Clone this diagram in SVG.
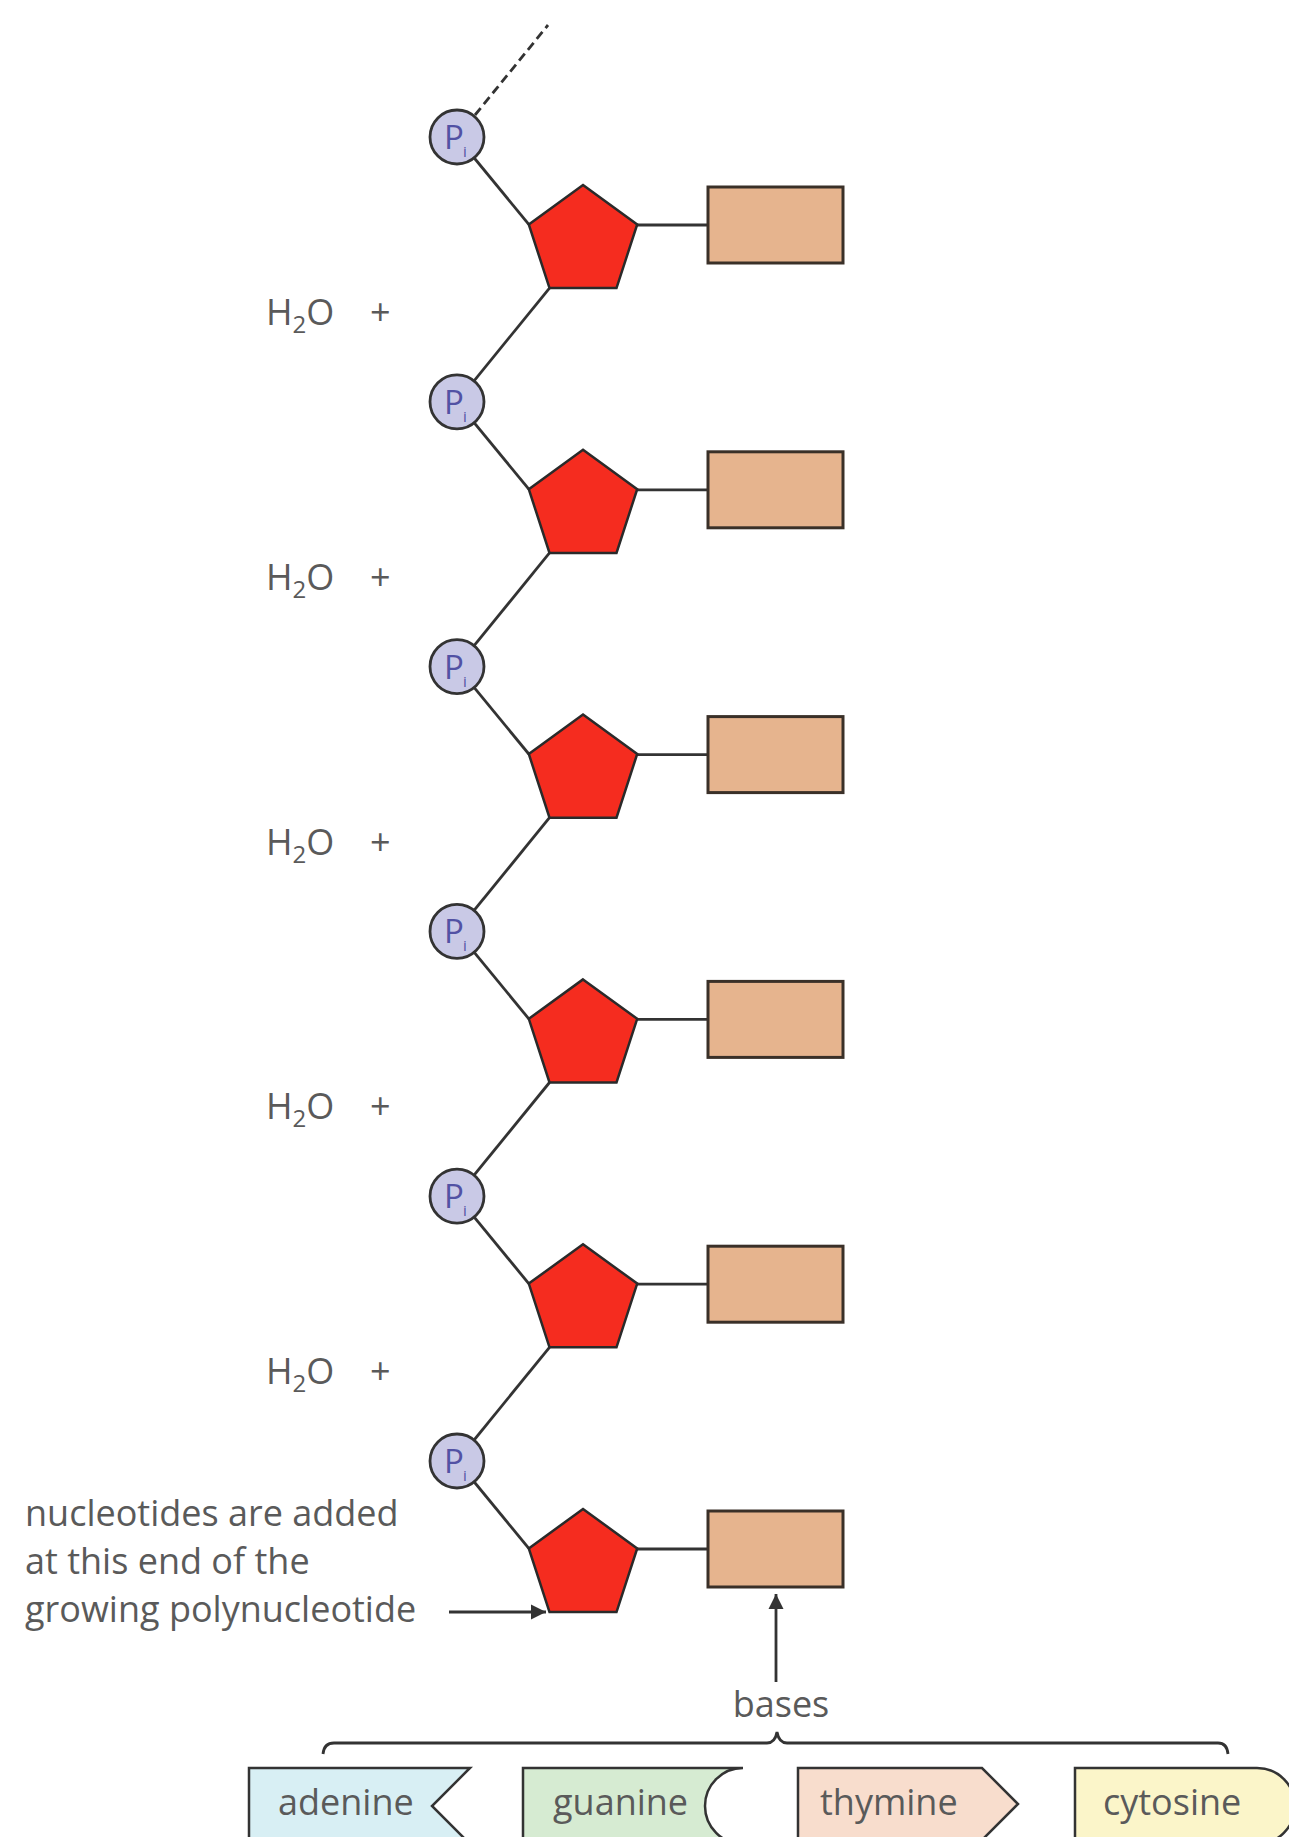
<svg xmlns="http://www.w3.org/2000/svg" xmlns:xlink="http://www.w3.org/1999/xlink" width="1289" height="1837" viewBox="0 0 1289 1837">
<style>
.bg{fill:#ffffff}
.ln{stroke:#333;stroke-width:2.8;fill:none}
.dash{stroke:#333;stroke-width:2.8;fill:none;stroke-dasharray:9 5}
.sugar{fill:#f52c1f;stroke:#2a2a2a;stroke-width:2.5;stroke-linejoin:miter}
.base{fill:#e6b48e;stroke:#3a3028;stroke-width:3}
.phos{fill:#c9c9e6;stroke:#333;stroke-width:2.8}
.pt{font-family:"Open Sans","Liberation Sans",sans-serif;fill:#5252a4;font-size:33px}
.pi{font-family:"Open Sans","Liberation Sans",sans-serif;fill:#5252a4;font-size:15px}
.t{font-family:"Open Sans","Liberation Sans",sans-serif;fill:#5a5a5a;font-size:36px}
.sub{font-size:24px}
.box{stroke:#333;stroke-width:2.5}
</style>
<defs>
<polygon id="pent" points="0,-57 54.2,-17.6 33.5,46.1 -33.5,46.1 -54.2,-17.6"/>
<marker id="ah" viewBox="0 0 10 10" refX="10" refY="5" markerWidth="5.5" markerHeight="5.5" orient="auto" markerUnits="strokeWidth">
<path d="M0,0 L10,5 L0,10 Z" fill="#333"/>
</marker>
</defs>
<rect class="bg" x="0" y="0" width="1289" height="1837"/>

<g id="connectors">
<line class="dash" x1="475" y1="115" x2="548" y2="25"/>
<line class="ln" x1="457" y1="137" x2="528.8" y2="224.4"/>
<line class="ln" x1="637" y1="225" x2="708" y2="225"/>
<line class="ln" x1="549.5" y1="288.1" x2="457" y2="401.8"/>
<line class="ln" x1="457" y1="401.8" x2="528.8" y2="489.2"/>
<line class="ln" x1="637" y1="489.8" x2="708" y2="489.8"/>
<line class="ln" x1="549.5" y1="552.9" x2="457" y2="666.6"/>
<line class="ln" x1="457" y1="666.6" x2="528.8" y2="754"/>
<line class="ln" x1="637" y1="754.6" x2="708" y2="754.6"/>
<line class="ln" x1="549.5" y1="817.7" x2="457" y2="931.4"/>
<line class="ln" x1="457" y1="931.4" x2="528.8" y2="1018.8"/>
<line class="ln" x1="637" y1="1019.4" x2="708" y2="1019.4"/>
<line class="ln" x1="549.5" y1="1082.5" x2="457" y2="1196.2"/>
<line class="ln" x1="457" y1="1196.2" x2="528.8" y2="1283.6"/>
<line class="ln" x1="637" y1="1284.2" x2="708" y2="1284.2"/>
<line class="ln" x1="549.5" y1="1347.3" x2="457" y2="1461"/>
<line class="ln" x1="457" y1="1461" x2="528.8" y2="1548.4"/>
<line class="ln" x1="637" y1="1549" x2="708" y2="1549"/>
<line class="ln" x1="449" y1="1612" x2="546" y2="1612" marker-end="url(#ah)"/>
<line class="ln" x1="776" y1="1682" x2="776" y2="1594" marker-end="url(#ah)"/>
<path class="ln" d="M323,1754 Q324,1743 334,1743 L767,1743 Q775,1743 777,1732 Q779,1743 787,1743 L1218,1743 Q1227,1743 1228,1754"/>
</g>

<g id="row1">
<g id="phosphate1"><circle class="phos" cx="457" cy="137" r="27"/><text class="pt" x="444" y="149">P</text><text class="pi" x="463" y="157">i</text></g>
<g id="sugar1"><use xlink:href="#pent" class="sugar" x="583" y="242"/></g>
<g id="base1"><rect class="base" x="708" y="187" width="135" height="76"/></g>
</g>
<g id="row2">
<g id="phosphate2"><circle class="phos" cx="457" cy="401.8" r="27"/><text class="pt" x="444" y="413.8">P</text><text class="pi" x="463" y="421.8">i</text></g>
<g id="sugar2"><use xlink:href="#pent" class="sugar" x="583" y="506.8"/></g>
<g id="base2"><rect class="base" x="708" y="451.8" width="135" height="76"/></g>
</g>
<g id="row3">
<g id="phosphate3"><circle class="phos" cx="457" cy="666.6" r="27"/><text class="pt" x="444" y="678.6">P</text><text class="pi" x="463" y="686.6">i</text></g>
<g id="sugar3"><use xlink:href="#pent" class="sugar" x="583" y="771.6"/></g>
<g id="base3"><rect class="base" x="708" y="716.6" width="135" height="76"/></g>
</g>
<g id="row4">
<g id="phosphate4"><circle class="phos" cx="457" cy="931.4" r="27"/><text class="pt" x="444" y="943.4">P</text><text class="pi" x="463" y="951.4">i</text></g>
<g id="sugar4"><use xlink:href="#pent" class="sugar" x="583" y="1036.4"/></g>
<g id="base4"><rect class="base" x="708" y="981.4" width="135" height="76"/></g>
</g>
<g id="row5">
<g id="phosphate5"><circle class="phos" cx="457" cy="1196.2" r="27"/><text class="pt" x="444" y="1208.2">P</text><text class="pi" x="463" y="1216.2">i</text></g>
<g id="sugar5"><use xlink:href="#pent" class="sugar" x="583" y="1301.2"/></g>
<g id="base5"><rect class="base" x="708" y="1246.2" width="135" height="76"/></g>
</g>
<g id="row6">
<g id="phosphate6"><circle class="phos" cx="457" cy="1461" r="27"/><text class="pt" x="444" y="1473">P</text><text class="pi" x="463" y="1481">i</text></g>
<g id="sugar6"><use xlink:href="#pent" class="sugar" x="583" y="1566"/></g>
<g id="base6"><rect class="base" x="708" y="1511" width="135" height="76"/></g>
</g>

<g id="water">
<text class="t" x="266" y="325">H<tspan class="sub" dy="8">2</tspan><tspan dy="-8">O</tspan></text><text class="t" x="370" y="325">+</text>
<text class="t" x="266" y="589.8">H<tspan class="sub" dy="8">2</tspan><tspan dy="-8">O</tspan></text><text class="t" x="370" y="589.8">+</text>
<text class="t" x="266" y="854.6">H<tspan class="sub" dy="8">2</tspan><tspan dy="-8">O</tspan></text><text class="t" x="370" y="854.6">+</text>
<text class="t" x="266" y="1119.4">H<tspan class="sub" dy="8">2</tspan><tspan dy="-8">O</tspan></text><text class="t" x="370" y="1119.4">+</text>
<text class="t" x="266" y="1384.2">H<tspan class="sub" dy="8">2</tspan><tspan dy="-8">O</tspan></text><text class="t" x="370" y="1384.2">+</text>
</g>

<g id="label-end">
<text class="t" x="25" y="1526">nucleotides are added</text>
<text class="t" x="25" y="1574">at this end of the</text>
<text class="t" x="25" y="1622">growing polynucleotide</text>
</g>

<g id="label-bases">
<text class="t" x="781" y="1717" text-anchor="middle">bases</text>
</g>

<g id="adenine">
<path class="box" fill="#d8eff4" d="M249,1850 V1768 H470 L432,1806 L470,1844 L476,1850 Z"/>
<text class="t" x="278" y="1815" fill="#444">adenine</text>
</g>
<g id="guanine">
<path class="box" fill="#d6ebd2" d="M523,1850 V1768 H743 A38,38 0 0 0 743,1844 V1850 Z"/>
<text class="t" x="553" y="1815">guanine</text>
</g>
<g id="thymine">
<path class="box" fill="#f8ddcd" d="M798,1850 V1768 H982 L1018,1804 L972,1850 Z"/>
<text class="t" x="820" y="1815">thymine</text>
</g>
<g id="cytosine">
<path class="box" fill="#fbf5c9" d="M1075,1850 V1768 H1257 A38,38 0 0 1 1257,1844 V1850 Z"/>
<text class="t" x="1103" y="1815">cytosine</text>
</g>
</svg>
